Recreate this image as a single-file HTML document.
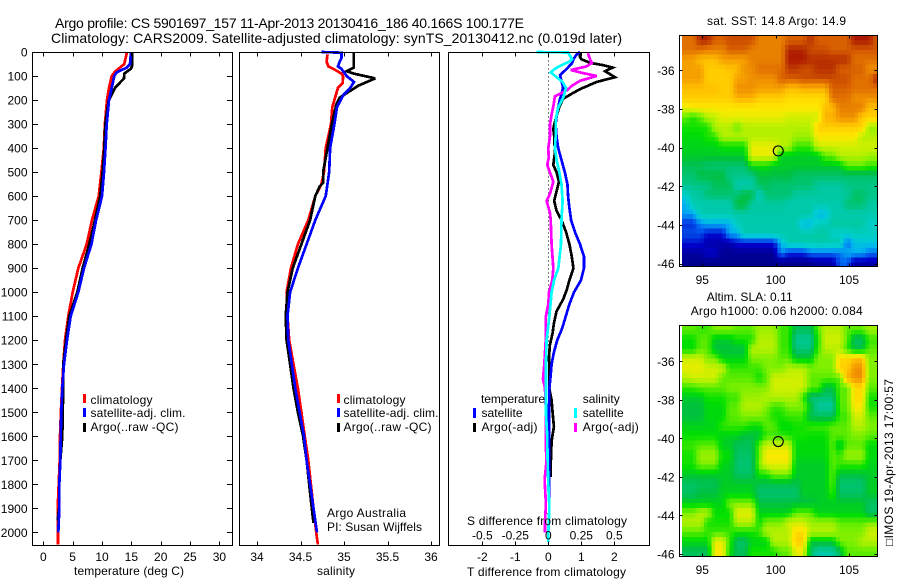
<!DOCTYPE html>
<html lang="en">
<head>
<meta charset="utf-8">
<title>Argo profile CS 5901697_157</title>
<style>
html,body{margin:0;padding:0;background:#fff;}
svg{display:block;font-family:"Liberation Sans",Arial,sans-serif;font-size:12px;fill:#000;}
</style>
</head>
<body>
<svg id="chart" xmlns="http://www.w3.org/2000/svg" width="900" height="580" viewBox="0 0 900 580">
  <rect x="0" y="0" width="900" height="580" fill="#fff"/>
  <defs>
    <clipPath id="clip-sst"><rect x="682" y="35.5" width="195.5" height="231"/></clipPath>
    <clipPath id="clip-sla"><rect x="682" y="325" width="195.5" height="231.5"/></clipPath>
  </defs>

  <text x="55" y="28" font-size="14" textLength="469" lengthAdjust="spacing">Argo profile: CS 5901697_157 11-Apr-2013 20130416_186 40.166S 100.177E</text>
  <text x="51" y="43" font-size="14" textLength="571" lengthAdjust="spacing">Climatology: CARS2009. Satellite-adjusted climatology: synTS_20130412.nc (0.019d later)</text>

  <g id="panel-temp"></g>
  <g id="panel-sal"></g>
  <g id="panel-diff"></g>
  <g id="map-sst"></g>
  <g id="map-sla"></g>

  <text x="74" y="575" textLength="110" lengthAdjust="spacing">temperature (deg C)</text>
  <text x="317" y="575" textLength="38" lengthAdjust="spacing">salinity</text>
  <text x="467" y="576" textLength="159" lengthAdjust="spacing">T difference from climatology</text>
  <text x="467" y="525" textLength="160" lengthAdjust="spacing">S difference from climatology</text>

  <g>
    <rect x="83" y="394" width="3" height="9" fill="#ff0000"/>
    <text x="90.5" y="404" textLength="62" lengthAdjust="spacing">climatology</text>
    <rect x="83" y="408" width="3" height="9" fill="#0000ff"/>
    <text x="90.5" y="417" textLength="95" lengthAdjust="spacing">satellite-adj. clim.</text>
    <rect x="83" y="423" width="3" height="9" fill="#000"/>
    <text x="90.5" y="431" textLength="88" lengthAdjust="spacing">Argo(..raw -QC)</text>
  </g>
  <g>
    <rect x="337" y="394" width="3" height="9" fill="#ff0000"/>
    <text x="343.5" y="404" textLength="62" lengthAdjust="spacing">climatology</text>
    <rect x="337" y="408" width="3" height="9" fill="#0000ff"/>
    <text x="343.5" y="417" textLength="95" lengthAdjust="spacing">satellite-adj. clim.</text>
    <rect x="337" y="423" width="3" height="9" fill="#000"/>
    <text x="343.5" y="431" textLength="88" lengthAdjust="spacing">Argo(..raw -QC)</text>
  </g>
  <text x="327" y="517" textLength="79" lengthAdjust="spacing">Argo Australia</text>
  <text x="327" y="531" textLength="95" lengthAdjust="spacing">PI: Susan Wijffels</text>

  <g>
    <text x="481" y="403" textLength="64" lengthAdjust="spacing">temperature</text>
    <text x="582.7" y="403" textLength="37" lengthAdjust="spacing">salinity</text>
    <rect x="473" y="408" width="3" height="10" fill="#0000ff"/>
    <text x="481.5" y="417" textLength="41" lengthAdjust="spacing">satellite</text>
    <rect x="473" y="423" width="3" height="9" fill="#000"/>
    <text x="481.5" y="431" textLength="56" lengthAdjust="spacing">Argo(-adj)</text>
    <rect x="574" y="408" width="3" height="10" fill="#00ffff"/>
    <text x="582.7" y="417" textLength="41" lengthAdjust="spacing">satellite</text>
    <rect x="574" y="423" width="3" height="9" fill="#ff00ff"/>
    <text x="582.7" y="431" textLength="56" lengthAdjust="spacing">Argo(-adj)</text>
  </g>

  <text x="707" y="25" textLength="139" lengthAdjust="spacing">sat. SST: 14.8 Argo: 14.9</text>
  <text x="706.7" y="301" textLength="86" lengthAdjust="spacing">Altim. SLA: 0.11</text>
  <text x="690.7" y="315" textLength="172" lengthAdjust="spacing">Argo h1000: 0.06 h2000: 0.084</text>
  <text transform="translate(893,546) rotate(-90)" x="0" y="0" textLength="167" lengthAdjust="spacing">□IMOS 19-Apr-2013 17:00:57</text>
</svg>
<script>
// ---- Profile tick labels ----
const depthTicks = [0,100,200,300,400,500,600,700,800,900,1000,1100,1200,1300,1400,1500,1600,1700,1800,1900,2000];
const tempTicks = [0,5,10,15,20,25,30];
const salTicks = [34,34.5,35,35.5,36];
const tDiffTicks = [-2,-1,0,1,2];
const sDiffTicks = [-0.5,-0.25,0,0.25,0.5];
const lonTicks = [95,100,105];
const latTicks = [-36,-38,-40,-42,-44,-46];

// ---- Temperature profiles (deg C) ----
const tempClimDepth = [0,50,82,100,150,200,300,400,500,600,700,800,900,1000,1100,1200,1300,1400,1500,1600,1700,1800,1900,2000,2050];
const tempClimValue = [14.26,13.8,12.2,11.65,11.2,10.85,10.5,10.3,9.9,9.43,8.3,7.4,5.96,5.0,4.26,3.7,3.41,3.19,3.0,2.85,2.8,2.62,2.45,2.5,2.5];
const tempSatDepth = [0,50,65,85,100,150,200,300,400,500,600,700,800,900,1000,1100,1200,1300,1400,1500,1600,1700,1800,1900,2000];
const tempSatValue = [14.94,14.77,14.2,12.5,12.1,11.65,11.2,10.8,10.6,10.34,10,9,8.2,6.93,5.96,4.67,4.04,3.53,3.24,3.07,2.96,2.9,2.73,2.73,2.56];
const tempArgoDepth = [3,60,70,90,110,150,190,200,300,400,500,600,700,800,900,1000,1100,1200,1300,1400,1500,1600,1700,1800,1900,1950];
const tempArgoValue = [15.1,15.1,14.9,13.8,13.75,12.2,11.4,11.14,10.56,10.4,10.1,9.7,8.8,7.84,6.7,5.8,4.43,3.87,3.4,3.41,3.3,3.24,2.9,2.73,2.7,2.45];

// ---- Salinity profiles ----
const salClimDepth = [10,40,60,75,90,100,130,150,200,230,300,400,500,550,600,700,800,900,1000,1100,1200,1300,1400,1500,1600,1700,1800,1900,2000,2050];
const salClimValue = [34.81,34.8,34.82,34.9,34.97,34.99,34.985,34.93,34.89,34.865,34.85,34.79,34.77,34.74,34.67,34.59,34.47,34.39,34.34,34.35,34.37,34.42,34.47,34.51,34.55,34.59,34.62,34.65,34.68,34.7];
const salSatDepth = [0,3,25,40,60,70,100,125,150,180,230,300,400,500,600,700,800,900,1000,1100,1200,1300,1400,1500,1600,1700,1800,1900,2000];
const salSatValue = [34.74,34.97,34.97,34.95,34.93,34.97,35.03,35.115,35.07,34.99,34.92,34.89,34.84,34.83,34.79,34.67,34.57,34.47,34.38,34.35,34.36,34.4,34.44,34.49,34.54,34.57,34.61,34.65,34.69];
const salArgoDepth = [5,65,80,90,110,140,190,220,300,400,500,545,560,600,700,800,900,1000,1100,1200,1300,1400,1500,1600,1700,1800,1900,1960];
const salArgoValue = [35.11,35.11,35.03,35.11,35.36,35.165,34.95,34.91,34.86,34.81,34.76,34.76,34.72,34.67,34.61,34.51,34.41,34.35,34.33,34.34,34.38,34.42,34.47,34.53,34.57,34.6,34.63,34.65];

// ---- Difference profiles: T in deg C, S in salinity units ----
const tSatDepth = [0,10,30,46,70,96,137,150,200,250,300,350,400,450,500,550,600,650,700,750,800,850,900,950,1000,1050,1100,1150,1200,1250,1300,1350,1400,1500,1600,1700,1800,1900,2000];
const tSatValue = [0.96,0.86,0.76,0.72,0.56,0.355,0.43,0.45,0.35,0.27,0.22,0.25,0.3,0.4,0.5,0.58,0.6,0.64,0.69,0.81,0.96,1.08,1.08,0.99,0.78,0.64,0.53,0.42,0.27,0.17,0.1,0.07,0.03,0.02,0.02,0.02,0.02,0.03,0];
const tArgoDepth = [0,20,30,45,55,65,80,105,125,140,155,170,195,230,290,320,350,420,470,500,540,570,620,660,700,750,800,850,900,950,990,1030,1080,1130,1170,1220,1270,1320,1400,1450,1500,1560,1620,1700,1750,1770];
const tArgoValue = [0.96,0.96,1.0,1.26,1.67,1.95,1.72,2.02,1.46,1.21,0.96,0.76,0.45,0.33,0.2,0.15,0.18,0.2,0.15,0.25,0.32,0.27,0.18,0.25,0.4,0.54,0.64,0.71,0.76,0.64,0.56,0.45,0.25,0.17,0.13,0.05,0.02,0.03,0.03,0.1,0.13,0.17,0.1,0.08,0.07,0.07];
const sArgoDepth = [5,20,35,45,60,75,85,100,120,140,160,185,220,260,300,350,400,440,470,520,540,590,620,670,700,800,900,950,1000,1050,1100,1200,1300,1360,1400,1500,1650,1700,1780,1880,1960,2000];
const sArgoValue = [0.3,0.31,0.32,0.33,0.29,0.17,0.24,0.366,0.24,0.18,0.14,0.05,0.04,0.025,0.013,0.013,0,0.003,-0.008,0.025,0.038,0.013,-0.013,0.013,0.018,0.025,0.038,0.03,0.005,0,-0.018,-0.02,-0.03,-0.04,-0.025,-0.018,-0.018,-0.013,-0.028,-0.018,-0.025,-0.025];
const sSatDepth = [0,2,15,30,40,55,70,85,105,125,150,190,230,280,350,400,450,500,550,620,700,800,900,950,1000,1100,1200,1300,1400,1500,1600,1700,1800,1900,2000,2040];
const sSatValue = [-0.09,0.15,0.164,0.18,0.16,0.1,0.05,0.018,0.063,0.108,0.134,0.114,0.076,0.056,0.056,0.05,0.063,0.083,0.1,0.108,0.1,0.096,0.076,0.043,0.025,0.008,-0.013,-0.018,-0.018,-0.018,-0.008,-0.005,0,0.008,0,0];

// ---- Map grids: colour-scale level 0-99, 0.5 degree cells, north at the top ----
const sstLevels = [
[88,88,96,96,90,90,92,92,92,92,86,86,86,86,90,90,90,95,90,90,90,90,90,97,97,97,90],
[88,88,88,86,86,86,90,90,90,86,86,86,86,86,96,96,96,92,92,92,90,90,90,91,91,91,91],
[82,82,78,78,78,82,82,82,82,86,86,86,86,86,97,97,97,95,95,95,95,95,95,88,88,88,88],
[82,82,82,76,76,76,78,78,84,84,88,88,88,88,94,94,92,92,95,95,95,90,90,90,90,84,84],
[82,82,82,76,76,76,76,82,82,84,84,84,84,90,90,90,92,92,92,92,92,92,92,88,88,88,97],
[78,78,78,78,78,76,76,84,84,84,82,82,82,82,78,78,80,80,80,80,90,90,90,88,88,88,88],
[76,76,76,76,76,76,76,80,80,80,76,76,76,76,74,74,74,74,74,74,88,88,88,84,84,84,84],
[70,72,72,72,72,72,72,72,72,72,72,72,72,72,72,72,72,72,72,78,78,86,86,86,86,78,78],
[60,56,60,66,66,70,70,70,70,70,70,70,70,70,68,68,68,68,68,80,80,84,84,84,76,76,76],
[56,56,56,56,66,66,66,60,66,66,66,66,66,66,66,66,66,66,76,76,76,76,76,76,76,64,64],
[54,54,54,57,57,66,66,66,66,66,66,66,66,66,66,64,64,64,72,72,72,72,72,72,66,66,66],
[53,53,53,53,53,55,55,55,55,70,70,70,70,66,66,58,58,58,68,68,68,68,68,68,68,68,68],
[52,52,52,52,52,52,52,52,52,70,70,70,70,52,52,52,52,52,52,60,60,66,66,66,66,64,64],
[48,48,48,46,46,46,46,46,46,55,55,55,52,52,52,52,52,52,52,52,52,52,60,60,60,58,58],
[46,46,50,50,50,50,44,44,44,44,50,50,50,50,50,47,47,47,47,47,47,47,47,47,47,47,47],
[44,44,44,44,48,48,48,40,40,40,48,48,46,46,46,46,46,46,42,42,42,42,44,44,44,44,44],
[36,42,42,46,46,46,46,46,50,50,36,46,46,46,46,42,42,42,42,42,42,42,42,47,47,44,44],
[28,40,40,40,40,40,40,50,50,42,42,42,42,42,40,40,40,40,40,40,40,40,46,46,46,42,42],
[26,26,40,40,40,40,40,41,41,41,41,41,41,41,41,41,41,41,30,30,40,40,40,40,40,40,40],
[15,15,24,28,28,28,28,38,40,40,40,40,40,40,40,40,30,30,38,38,42,42,42,42,42,36,36],
[18,18,18,12,12,12,28,28,40,40,40,40,40,40,40,40,40,40,42,42,36,36,36,38,38,38,38],
[12,12,12,6,6,6,6,12,12,12,12,12,12,30,40,40,40,40,40,40,40,40,20,32,32,32,32],
[5,5,5,10,10,3,3,3,3,3,3,3,3,25,15,15,15,22,22,22,22,22,28,28,28,22,22],
[2,2,2,2,2,2,2,2,2,2,2,2,2,2,2,2,2,2,5,5,5,20,20,6,6,6,6]
];
const slaLevels = [
[60,60,58,58,62,62,62,60,60,60,64,64,64,58,58,48,48,48,60,66,66,66,60,60,60,64,64],
[55,55,60,60,52,52,52,56,56,56,66,66,66,58,58,43,43,43,56,68,68,68,60,47,47,58,58],
[55,55,60,60,50,50,50,50,50,66,66,66,66,58,58,45,45,45,58,66,66,66,58,50,50,60,60],
[68,68,68,62,62,53,53,53,53,62,62,62,62,60,60,52,52,52,62,62,62,74,74,78,78,62,62],
[70,70,70,68,68,68,58,58,58,58,58,62,62,62,66,66,66,62,62,62,62,76,76,84,84,62,62],
[66,68,68,68,68,60,60,60,60,60,55,60,68,68,68,68,68,60,60,60,60,60,80,84,84,62,62],
[58,58,60,60,60,60,62,62,62,62,62,62,68,68,68,68,68,60,60,50,50,60,60,74,74,60,60],
[52,52,52,56,56,56,58,58,64,64,64,66,66,66,66,66,58,46,46,46,46,60,60,74,74,56,56],
[50,50,50,54,54,54,60,60,66,66,66,62,58,58,62,62,62,52,42,42,42,60,60,72,72,56,56],
[50,50,50,54,54,54,60,60,62,62,62,60,56,56,58,58,58,48,48,48,48,58,58,68,68,60,60],
[53,53,53,53,53,58,58,58,58,55,55,60,60,54,54,56,56,58,58,58,60,60,60,66,66,62,62],
[55,55,55,55,55,53,53,53,50,50,50,58,58,58,56,56,56,55,55,55,60,60,60,62,62,60,60],
[58,58,60,60,60,52,52,48,48,48,60,68,68,68,68,54,54,54,54,54,60,50,60,60,60,54,54],
[56,56,64,64,64,55,55,47,47,47,60,72,72,72,72,54,54,54,54,54,60,58,64,64,64,54,54],
[56,56,62,62,62,53,53,46,46,46,62,70,70,70,70,52,52,52,52,52,60,58,58,58,58,53,53],
[52,52,52,52,52,52,52,47,47,47,56,56,62,62,62,52,52,52,52,52,60,50,50,50,50,52,52],
[47,47,48,48,48,52,52,52,52,52,49,49,49,49,49,49,52,52,52,52,60,46,46,46,46,52,52],
[47,47,50,50,50,53,53,53,53,53,46,46,46,46,46,46,52,52,52,52,58,47,47,47,47,52,52],
[53,53,53,53,53,53,62,62,62,62,50,50,50,50,50,50,50,50,52,52,52,52,52,52,52,47,47],
[62,62,66,66,55,55,55,70,70,70,53,53,53,53,53,60,60,60,53,53,53,53,53,53,53,47,47],
[66,66,66,56,56,56,56,66,66,66,55,62,62,62,68,68,68,64,64,64,64,60,60,60,60,62,62],
[60,60,60,58,58,58,58,56,56,56,58,66,66,66,66,74,74,66,66,66,66,62,62,62,62,68,68],
[54,54,54,54,70,70,58,47,47,53,53,53,66,66,66,76,76,52,52,52,52,62,62,62,66,66,66],
[48,48,48,48,72,72,55,48,48,56,56,56,56,60,60,70,70,48,41,41,41,48,60,60,60,60,60]
];
const profileLon = [100.177];
const profileLat = [-40.166];
const gridStartLon = [93.62];
const gridStartLatSst = [-34.19];
const gridStartLatSla = [-34.115];
const gridStepDeg = [0.5];

// ---- Colour scale (level stop, rgb) ----
const colourStops = [[0,0,0,128],[10,0,0,200],[20,0,96,240],[28,0,176,240],[35,0,208,208],[42,0,200,160],[50,0,192,64],[55,0,224,0],[62,128,240,0],[68,208,240,0],[72,255,232,0],[78,255,192,0],[84,240,144,0],[90,216,96,0],[95,184,48,0],[99,160,0,0]];

function levelColour(v){
  let i = 0;
  while(i < colourStops.length-2 && v > colourStops[i+1][0]) i++;
  const a = colourStops[i], b = colourStops[i+1];
  const t = Math.max(0, Math.min(1, (v-a[0])/(b[0]-a[0])));
  const c = [1,2,3].map(k => Math.round(a[k]+(b[k]-a[k])*t));
  return 'rgb('+c.join(',')+')';
}

const NS = 'http://www.w3.org/2000/svg';
function make(parent, tag, attrs, text){
  const el = document.createElementNS(NS, tag);
  for(const k in attrs) el.setAttribute(k, attrs[k]);
  if(text !== undefined) el.textContent = text;
  parent.appendChild(el);
  return el;
}

// ---- Shared axis functions ----
const PANEL_TOP = 52.5, PANEL_BOTTOM = 545.5;
function depthY(d){ return 52 + 0.2402*d; }
function tempX(t){ return 43.3 + 5.87*t; }
function salX(s){ return 257 + 87*(s-34); }
function tDiffX(t){ return 548.3 + 33*t; }
function sDiffX(s){ return 548.3 + 132*s; }

function drawFrame(group, left, right, top, bottom){
  const frame = make(group,'rect',{x:left,y:top,width:right-left,height:bottom-top,fill:'none',stroke:'#000','stroke-width':1,'shape-rendering':'crispEdges'});
  
  
}
function drawXTicks(group, values, xf, top, bottom, len, labelY, fmt){
  values.forEach(v => {
    const x = Math.round(xf(v))+0.5;
    const t1 = make(group,'line',{x1:x,x2:x,y1:bottom,y2:bottom-len,stroke:'#000','stroke-width':1,'shape-rendering':'crispEdges'});
    
    
    const t2 = make(group,'line',{x1:x,x2:x,y1:top,y2:top+len,stroke:'#000','stroke-width':1,'shape-rendering':'crispEdges'});
    
    
    const lab = make(group,'text',{x:xf(v),y:labelY,'text-anchor':'middle'},fmt(v));
    
    
  });
}
function drawLine(group, depths, values, xf, colour, name){
  const pts = depths.map((d,i) => xf(values[i]).toFixed(1)+','+depthY(d).toFixed(1)).join(' ');
  const el = make(group,'polyline',{points:pts,fill:'none',stroke:colour,'stroke-width':2.7,'stroke-linejoin':'miter','stroke-miterlimit':3,'shape-rendering':'crispEdges'});
  
  
}

// ---- Temperature panel ----
const gTemp = document.getElementById('panel-temp');
drawLine(gTemp, tempClimDepth, tempClimValue, tempX, '#ff0000', 'temperature-climatology-line');
drawLine(gTemp, tempArgoDepth, tempArgoValue, tempX, '#000000', 'temperature-argo-line');
drawLine(gTemp, tempSatDepth, tempSatValue, tempX, '#0000ff', 'temperature-satellite-line');
drawFrame(gTemp, 32.5, 232.5, PANEL_TOP, PANEL_BOTTOM);
drawXTicks(gTemp, tempTicks, tempX, PANEL_TOP, PANEL_BOTTOM, 4, 561, v => String(v));
depthTicks.forEach(d => {
  const y = Math.round(depthY(d))+0.5;
  const l = make(gTemp,'line',{x1:32.5,x2:38,y1:y,y2:y,stroke:'#000','stroke-width':1,'shape-rendering':'crispEdges'});
  
  
  const r = make(gTemp,'line',{x1:227,x2:232.5,y1:y,y2:y,stroke:'#000','stroke-width':1,'shape-rendering':'crispEdges'});
  
  
  const lab = make(gTemp,'text',{x:27.5,y:depthY(d)+4.5,'text-anchor':'end'},String(d));
  
  
});

// ---- Salinity panel ----
const gSal = document.getElementById('panel-sal');
drawLine(gSal, salClimDepth, salClimValue, salX, '#ff0000', 'salinity-climatology-line');
drawLine(gSal, salArgoDepth, salArgoValue, salX, '#000000', 'salinity-argo-line');
drawLine(gSal, salSatDepth, salSatValue, salX, '#0000ff', 'salinity-satellite-line');
drawFrame(gSal, 239.5, 439.5, PANEL_TOP, PANEL_BOTTOM);
drawXTicks(gSal, salTicks, salX, PANEL_TOP, PANEL_BOTTOM, 4, 561, v => String(v));

// ---- Difference panel ----
const gDiff = document.getElementById('panel-diff');
const zeroLine = make(gDiff,'line',{x1:tDiffX(0),x2:tDiffX(0),y1:PANEL_TOP,y2:PANEL_BOTTOM,stroke:'#000','stroke-width':1,'stroke-dasharray':'1 3','shape-rendering':'crispEdges'});


drawLine(gDiff, tArgoDepth, tArgoValue, tDiffX, '#000000', 't-difference-argo-line');
drawLine(gDiff, tSatDepth, tSatValue, tDiffX, '#0000ff', 't-difference-satellite-line');
drawLine(gDiff, sArgoDepth, sArgoValue, sDiffX, '#ff00ff', 's-difference-argo-line');
drawLine(gDiff, sSatDepth, sSatValue, sDiffX, '#00ffff', 's-difference-satellite-line');
drawFrame(gDiff, 448.5, 649.5, PANEL_TOP, PANEL_BOTTOM);
drawXTicks(gDiff, tDiffTicks, tDiffX, PANEL_TOP, PANEL_BOTTOM, 4, 561, v => String(v));
sDiffTicks.forEach(v => {
  const lab = make(gDiff,'text',{x:sDiffX(v),y:539.5,'text-anchor':'middle'},String(v));
  
  
});

// ---- Maps ----
// Display shading: each 0.5 degree value is shown through 0.25 degree pixels blended
// between neighbouring cell centres, like an interpolated pcolor. The arrays stay the source.
function shadedLevel(levels, u, v){
  const rows = levels.length, cols = levels[0].length;
  const cu = Math.max(0, Math.min(cols-1, u)), cv = Math.max(0, Math.min(rows-1, v));
  const c0 = Math.floor(cu), r0 = Math.floor(cv);
  const c1 = Math.min(cols-1, c0+1), r1 = Math.min(rows-1, r0+1);
  const tu = cu-c0, tv = cv-r0;
  const top = levels[r0][c0]*(1-tu) + levels[r0][c1]*tu;
  const bot = levels[r1][c0]*(1-tu) + levels[r1][c1]*tu;
  return top*(1-tv) + bot*tv;
}
function drawMap(groupId, levels, startLat, lonX, latY, box, clipId, labelY, prefix){
  const g = document.getElementById(groupId);
  const cells = make(g,'g',{'clip-path':'url(#'+clipId+')'});
  
  
  const sub = gridStepDeg[0]/2;
  for(let r = 0; r < levels.length*2; r++){
    for(let c = 0; c < levels[0].length*2; c++){
      const lon0 = gridStartLon[0] + c*sub;
      const lat0 = startLat - r*sub;
      const x0 = lonX(lon0), x1 = lonX(lon0+sub);
      const y0 = latY(lat0), y1 = latY(lat0-sub);
      const v = shadedLevel(levels, (c+0.5)/2-0.5, (r+0.5)/2-0.5);
      const cell = make(cells,'rect',{x:x0.toFixed(2),y:y0.toFixed(2),width:(x1-x0+0.4).toFixed(2),height:(y1-y0+0.4).toFixed(2),fill:levelColour(v),'shape-rendering':'crispEdges'});
      
      
    }
  }
  const marker = make(g,'circle',{cx:lonX(profileLon[0]),cy:latY(profileLat[0]),r:5,fill:'none',stroke:'#000','stroke-width':1.1});
  
  
  drawFrame(g, box.l, box.r, box.t, box.b);
  lonTicks.forEach(v => {
    const x = Math.round(lonX(v))+0.5;
    const b = make(g,'line',{x1:x,x2:x,y1:box.b,y2:box.b-3,stroke:'#000','stroke-width':1,'shape-rendering':'crispEdges'});
    
    
    const t = make(g,'line',{x1:x,x2:x,y1:box.t,y2:box.t+3,stroke:'#000','stroke-width':1,'shape-rendering':'crispEdges'});
    
    
    const lab = make(g,'text',{x:lonX(v),y:labelY,'text-anchor':'middle'},String(v));
    
    
  });
  latTicks.forEach(v => {
    const y = Math.round(latY(v))+0.5;
    const l = make(g,'line',{x1:box.l,x2:box.l+3,y1:y,y2:y,stroke:'#000','stroke-width':1,'shape-rendering':'crispEdges'});
    
    
    const r = make(g,'line',{x1:box.r-3,x2:box.r,y1:y,y2:y,stroke:'#000','stroke-width':1,'shape-rendering':'crispEdges'});
    
    
    const lab = make(g,'text',{x:674.5,y:latY(v)+4.5,'text-anchor':'end'},String(v));
    
    
  });
}
function mapLonX(lon){ return 702.3 + 14.67*(lon-95); }
function sstLatY(lat){ return 70.3 + 19.34*(-36-lat); }
function slaLatY(lat){ return 361.3 + 19.26*(-36-lat); }
drawMap('map-sst', sstLevels, gridStartLatSst[0], mapLonX, sstLatY, {l:679.5,r:877.5,t:35.5,b:266.5}, 'clip-sst', 284, 'sst');
drawMap('map-sla', slaLevels, gridStartLatSla[0], mapLonX, slaLatY, {l:679.5,r:877.5,t:325.5,b:556.5}, 'clip-sla', 574, 'sla');
</script>
</body>
</html>
